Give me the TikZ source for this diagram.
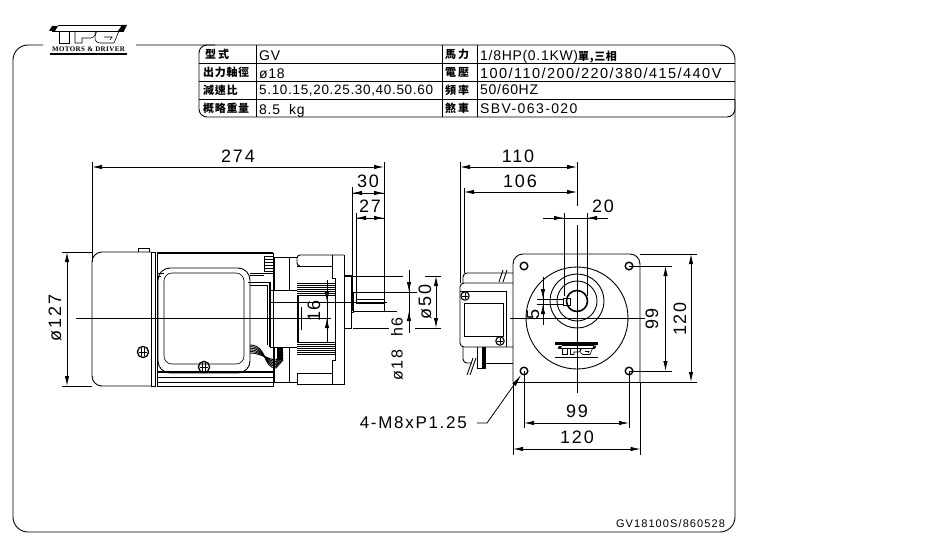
\documentclass[tikz,border=0pt]{standalone}
\usepackage{fontspec}
\usetikzlibrary{arrows.meta}
\setmainfont{Liberation Sans}
\newfontfamily\cadfont[LetterSpace=5]{Liberation Sans}
\newfontfamily\cadwidefont[LetterSpace=10]{Liberation Sans}
\newfontfamily\cjkfont[LetterSpace=6]{Noto Sans CJK TC}
\newfontfamily\brandfont[LetterSpace=6]{Liberation Serif}

\tikzset{
    cadline/.style={line width=0.9pt},
    hairline/.style={line width=0.6pt},
    dimline/.style={line width=0.8pt,{Latex[length=10pt,width=4.4pt]}-{Latex[length=10pt,width=4.4pt]}},
    dimtip/.style={line width=0.8pt,-{Latex[length=10pt,width=4.4pt]}},
    dimtext/.style={inner sep=0pt,font=\cadwidefont\fontsize{18}{18}\selectfont},
    celltext/.style={inner sep=0pt,anchor=base west,font=\cadfont\fontsize{14}{14}\selectfont},
    cjktext/.style={inner sep=0pt,anchor=west,font=\cjkfont\bfseries\fontsize{11}{11}\selectfont},
    screwhead/.pic={
        \draw[line width=1.1pt] (0,0) circle (4.2);
        \draw[line width=0.9pt] (-3,0) -- (3,0) (0,-3) -- (0,3);
    },
    bigscrew/.pic={
        \draw[line width=1.3pt] (0,0) circle (5.6);
        \draw[line width=0.9pt] (-4,0) -- (4,0) (-1.5,-4) -- (-1.5,4) (1.5,-4) -- (1.5,4);
    },
    tpglogo/.pic={
        \fill (-39,-3) -- (-36,-8) -- (-30,-8) -- (-33,-3) -- cycle;
        \fill (30,-3) -- (34,-9) -- (39,-9) -- (36,-3) -- cycle;
        \draw[hairline] (-30,-8.5) -- (34,-8.5) (-36,-3) -- (36,-3);
        % letters T, P, G
        \draw[hairline] (-29,-3) -- (-29,9) -- (-19,9) -- (-19,-3);
        \draw[hairline] (-13,-3) -- (-13,9) -- (-6,9) -- (-6,4) -- (3,4) .. controls (7,3) and (8,0) .. (7,-3);
        \draw[hairline] (9,-3) .. controls (5,4) and (7,9) .. (12,9) -- (26,9) -- (31,-3);
        \draw[hairline] (16,3) -- (24,3) -- (22,6);
    }
}

\begin{document}
\begin{tikzpicture}[x=1pt,y=-1pt]
    \useasboundingbox (0,0) rectangle (926,551);

    % frame and logo
    \draw[cadline,rounded corners=15pt] (43,45) -- (13,45) -- (13,532) -- (735,532) -- (735,45) -- (136,45);
    \pic at (88,34) {tpglogo};
    \node[inner sep=0pt,font=\brandfont\bfseries\fontsize{7}{7}\selectfont] (brand) at (88.5,49.5) {MOTORS \& DRIVER};
    \draw[line width=1.2pt] (50,54) -- (127,54);

    % spec table
    \draw[cadline,rounded corners=8pt] (215,45) -- (199,45) -- (199,117) -- (735,117) -- (735,100);
    \draw[cadline] (199,63) -- (735,63) (199,81) -- (735,81) (199,99) -- (735,99);
    \draw[cadline] (256,45) -- (256,117) (442,45) -- (442,117) (477,45) -- (477,117);

    \node[cjktext] (typeKey)    at (205,54)  {型\,式};
    \node[cjktext] (shaftKey)   at (203,72)  {出力軸徑};
    \node[cjktext] (ratioKey)   at (203,90)  {減速比};
    \node[cjktext] (weightKey)  at (203,108) {概略重量};
    \node[celltext] (typeVal)   at (259,60)  {GV};
    \node[celltext] (shaftVal)  at (259,78)  {ø18};
    \node[celltext,font=\cadfont\fontsize{13.5}{13.5}\selectfont] (ratioVal) at (259,95) {5.10.15,20.25.30,40.50.60};
    \node[celltext] (weightVal) at (259,114) {8.5\ \ kg};
    \node[cjktext] (powerKey)   at (445,54)  {馬\,力};
    \node[cjktext] (voltKey)    at (445,72)  {電\,壓};
    \node[cjktext] (freqKey)    at (445,90)  {頻\,率};
    \node[cjktext] (brakeKey)   at (445,108) {煞\,車};
    \node[celltext] (powerVal)  at (480,60)  {1/8HP(0.1KW){\cjkfont\bfseries\fontsize{11}{11}\selectfont 單,三相}};
    \node[celltext,font=\cadwidefont\fontsize{14.5}{14.5}\selectfont] (voltVal) at (480,78) {100/110/200/220/380/415/440V};
    \node[celltext] (freqVal)   at (480,95)  {50/60HZ};
    \node[celltext,font=\cadwidefont\fontsize{14}{14}\selectfont] (brakeVal) at (480,113) {SBV-063-020};

    % motor seen from the side
    \draw[cadline,rounded corners=10pt] (151,252) -- (92,252) -- (92,386) -- (151,386);
    \draw[cadline] (151,252) rectangle (155,386) (138,252) -- (138,248) -- (149,248) -- (149,252);
    \draw[cadline] (157,253) -- (157,386) -- (273,386) -- (273,253);
    \draw[line width=2pt] (157,253) -- (273,253);
    \draw[line width=1.6pt] (157,372) -- (273,372);
    \draw[cadline] (157,377) -- (273,377) (157,382) -- (273,382);
    \draw[cadline,rounded corners=12pt] (158,268) rectangle (250,373);
    \draw[hairline,rounded corners=8pt] (164,273) rectangle (244,364);
    \draw[hairline] (157,273) -- (164,273) (157,276) -- (161,276) (250,273) -- (273,273) (250,275) -- (264,275);
    \foreach \y in {256,259,262,265,268,271}
        \draw[hairline] (264,\y) -- (273,\y);
    \draw[hairline] (264,256) -- (264,272);
    \draw[cadline] (248,282) -- (270,282);
    \draw[line width=1.6pt] (270,282) -- (270,347);
    \draw[cadline] (250,285) -- (267,285) -- (267,345);
    \draw[cadline] (270,290) -- (297,290) (270,347) -- (297,347) (270,302) -- (387,302);
    % cable gland
    \foreach \d in {0,1.6,3.2,4.8,6.4,8}
        \draw[cadline] (250,345+\d) .. controls (268-\d,345+\d) and (262+\d,368-\d) .. (276,368-\d) -- (283,360-\d);
    \fill (277,347) rectangle (283,360);
    \draw[cadline] (273,257) -- (297,257) (274,257) -- (274,290) (289,257) -- (289,290);
    \draw[cadline] (273,382) -- (297,382) (274,347) -- (274,382) (289,347) -- (289,382);

    % gear head
    \draw[cadline,rounded corners=3pt] (300,266) -- (297,266) -- (297,255) -- (344,255);
    \draw[cadline] (297,266) -- (332,266) -- (332,255) (332,266) -- (332,278) -- (335,278) -- (335,360) -- (332,360) -- (332,384);
    \draw[cadline] (344,255) -- (344,384) -- (297,384) -- (297,373) -- (332,373);
    \foreach \y in {283,285,287,289,291,293,295,342,344,346,348,350,352,354}
        \draw[hairline] (297,\y) -- (335,\y);
    \draw[line width=1.4pt] (298,295) -- (298,342);
    \draw[hairline] (301,307) -- (301,330);
    \draw[cadline] (344,275) -- (351,275) -- (351,328) -- (344,328);
    \draw[cadline] (351,292) -- (353,292) -- (353,312) -- (351,312);

    % output shaft
    \draw[cadline] (353,292) -- (384,292) (353,311) -- (384,311) (384,292) -- (384,311);
    \draw[hairline] (356,299) -- (384,299) (356,303) -- (384,303);

    % centre line of the motor
    \draw[cadline] (76,318) -- (331,318);
    \pic at (143,352) {bigscrew};
    \pic at (204,367) {bigscrew};

    % side view dimensions
    \draw[hairline] (62,252) -- (92,252) (62,386) -- (92,386);
    \draw[dimline] (67,252) -- (67,386);
    \node[dimtext,rotate=90] (dia127) at (55,318) {ø127};
    \draw[hairline] (92,162) -- (92,262) (384,162) -- (384,292);
    \draw[dimline] (92,167) -- (384,167);
    \node[dimtext] (len274) at (238,156) {274};
    \draw[hairline] (352,187) -- (352,311) (356,213) -- (356,303);
    \draw[line width=0.8pt] (352,193) -- (384,193) (356,218) -- (384,218);
    \draw[dimtip] (365,193) -- (352,193);
    \draw[dimtip] (372,193) -- (384,193);
    \draw[dimtip] (368,218) -- (356,218);
    \draw[dimtip] (372,218) -- (384,218);
    \node[dimtext] (len30) at (368,181) {30};
    \node[dimtext] (len27) at (370,206) {27};
    \draw[hairline] (327,280) -- (327,342);
    \draw[dimtip] (327,290) -- (327,302);
    \draw[dimtip] (327,330) -- (327,318);
    \node[dimtext,rotate=90] (off16) at (314,311) {16};
    \draw[hairline] (345,276) -- (403,276) (353,328) -- (389,328);
    \draw[hairline] (425,276) -- (441,276) (415,328) -- (441,328);
    \draw[dimline] (436,276) -- (436,328);
    \node[dimtext,rotate=90] (dia50) at (425,302) {ø50};
    \draw[hairline] (384,292) -- (417,292) (384,311) -- (397,311);
    \draw[line width=0.8pt] (409,270) -- (409,333);
    \draw[dimtip] (409,281) -- (409,292);
    \draw[dimtip] (409,322) -- (409,311);
    \node[dimtext,rotate=90,font=\cadwidefont\fontsize{16}{16}\selectfont] (dia18) at (397,349) {ø18\hspace{13pt}h6};

    % terminal box seen from the front
    \draw[cadline,rounded corners=4pt] (513,283) -- (460,283) -- (460,347) -- (513,347);
    \draw[cadline] (460,291) -- (506,291) -- (506,347);
    \draw[cadline] (464,303) rectangle (503,336);
    \draw[cadline,rounded corners=4pt] (463,283) -- (463,273) -- (513,273);
    \draw[cadline] (499,282) -- (503,270) (503,282) -- (507,270);
    \draw[cadline,rounded corners=4pt] (463,347) -- (463,363) -- (472,363);
    \draw[cadline] (486,363) -- (513,363) (477,347) -- (477,368) -- (486,368);
    \fill (482,347) rectangle (486,368);
    \draw[cadline] (467,375) -- (473,358) (470,375) -- (476,358);
    \pic at (465,296) {screwhead};
    \pic at (500,341) {screwhead};

    % flange
    \draw[cadline,rounded corners=10pt] (513,382) -- (513,254) -- (640,254) -- (640,382);
    \draw[cadline] (513,382) -- (697,382) (640,254) -- (697,254);
    \draw[cadline] (577,318) circle (51);
    \draw[cadline] (577,301) circle (27);
    \draw[cadline] (577,301) circle (20);
    \draw[line width=1.6pt] (577,301) circle (10.5);
    \draw[cadline] (563,298) rectangle (570,305);
    \foreach \cx/\cy in {524/266,629/266,524/371,629/371}
        \draw[line width=1.4pt] (\cx,\cy) circle (3.8);
    \draw[hairline] (510,318) -- (645,318) (577,225) -- (577,393);
    \draw[line width=0.8pt] (555,342) -- (598,342) (555,357) -- (598,357);
    \draw[line width=1.4pt] (555,344) -- (598,344);
    \pic[scale=0.5] at (577,350) {tpglogo};

    % front view dimensions
    \draw[hairline] (460,162) -- (460,283) (464,188) -- (464,273) (577,162) -- (577,206);
    \draw[dimline] (460,167) -- (577,167);
    \draw[dimline] (464,192) -- (577,192);
    \node[dimtext] (wid110) at (518,156) {110};
    \node[dimtext] (wid106) at (520,181) {106};
    \draw[hairline] (564,213) -- (564,296) (587,213) -- (587,296);
    \draw[line width=0.8pt] (543,218) -- (608,218);
    \draw[dimtip] (552,218) -- (564,218);
    \draw[dimtip] (598,218) -- (587,218);
    \node[dimtext] (key20) at (603,206) {20};
    \draw[hairline] (537,299) -- (563,299) (537,304) -- (563,304);
    \draw[line width=0.8pt] (543,277) -- (543,325);
    \draw[dimtip] (543,287) -- (543,299);
    \draw[dimtip] (543,316) -- (543,304);
    \node[dimtext,rotate=90] (key5) at (533,314) {5};

    \draw[hairline] (629,266) -- (672,266) (629,371) -- (672,371);
    \draw[dimline] (665.5,266) -- (665.5,371);
    \node[dimtext,rotate=90] (holeY) at (652,319) {99};
    \draw[dimline] (691,254) -- (691,382);
    \node[dimtext,rotate=90] (flangeY) at (680,319) {120};
    \draw[hairline] (524,371) -- (524,428) (629,371) -- (629,428) (513,382) -- (513,455) (640.5,382) -- (640.5,455);
    \draw[dimline] (524,423) -- (629,423);
    \draw[dimline] (513,449) -- (640.5,449);
    \node[dimtext] (holeX) at (577,411) {99};
    \node[dimtext] (flangeX) at (577,437) {120};

    % thread callout
    \node[dimtext,anchor=east,font=\cadwidefont\fontsize{17}{17}\selectfont] (thread) at (467,423) {4-M8xP1.25};
    \coordinate (threadTip) at (521,375);
    \coordinate (threadBend) at (487,423);
    \coordinate (threadEnd) at (477,423);
    \draw[line width=0.8pt,{Latex[length=12pt,width=4.4pt]}-] (threadTip) -- (threadBend) -- (threadEnd);

    \node[inner sep=0pt,font=\cadwidefont\fontsize{11}{11}\selectfont] (partNo) at (670.5,524) {GV18100S/860528};
\end{tikzpicture}
\end{document}
